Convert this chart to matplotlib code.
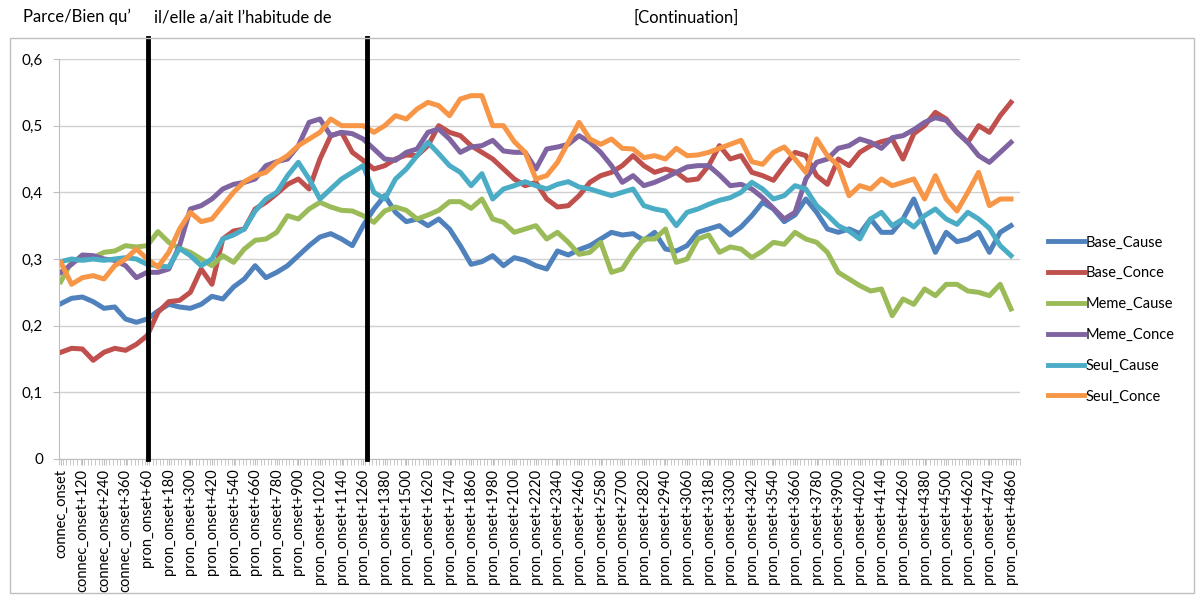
import numpy as np
import matplotlib
matplotlib.use('Agg')
import matplotlib.pyplot as plt
from matplotlib.patches import Rectangle

plt.rcParams['font.family'] = ['Lato', 'DejaVu Sans']

# tick labels, one every 120 ms (data sampled every 60 ms)
tick_labels = ['connec_onset', 'connec_onset+120', 'connec_onset+240', 'connec_onset+360',
               'pron_onset+60', 'pron_onset+180', 'pron_onset+300', 'pron_onset+420',
               'pron_onset+540', 'pron_onset+660', 'pron_onset+780', 'pron_onset+900',
               'pron_onset+1020', 'pron_onset+1140', 'pron_onset+1260', 'pron_onset+1380',
               'pron_onset+1500', 'pron_onset+1620', 'pron_onset+1740', 'pron_onset+1860',
               'pron_onset+1980', 'pron_onset+2100', 'pron_onset+2220', 'pron_onset+2340',
               'pron_onset+2460', 'pron_onset+2580', 'pron_onset+2700', 'pron_onset+2820',
               'pron_onset+2940', 'pron_onset+3060', 'pron_onset+3180', 'pron_onset+3300',
               'pron_onset+3420', 'pron_onset+3540', 'pron_onset+3660', 'pron_onset+3780',
               'pron_onset+3900', 'pron_onset+4020', 'pron_onset+4140', 'pron_onset+4260',
               'pron_onset+4380', 'pron_onset+4500', 'pron_onset+4620', 'pron_onset+4740',
               'pron_onset+4860']

base_cause = [0.233, 0.241, 0.243, 0.236, 0.226, 0.228, 0.21, 0.205, 0.21, 0.222,
              0.232, 0.228, 0.226, 0.232, 0.244, 0.24, 0.258, 0.27, 0.29, 0.272,
              0.28, 0.29, 0.305, 0.32, 0.333, 0.338, 0.33, 0.32, 0.35, 0.375,
              0.395, 0.37, 0.356, 0.36, 0.35, 0.36, 0.345, 0.32, 0.292, 0.296,
              0.305, 0.29, 0.302, 0.298, 0.29, 0.285, 0.312, 0.306, 0.314, 0.32,
              0.33, 0.34, 0.336, 0.338, 0.328, 0.34, 0.315, 0.312, 0.32,
              0.34, 0.345, 0.35, 0.336, 0.348, 0.365, 0.385, 0.375, 0.356, 0.366,
              0.39, 0.37, 0.345, 0.34, 0.345, 0.338, 0.36, 0.34, 0.34, 0.36,
              0.39, 0.35, 0.31, 0.34, 0.326, 0.33, 0.34, 0.31, 0.34, 0.35]

base_conce = [0.16, 0.166, 0.165, 0.148, 0.16, 0.166, 0.163, 0.172, 0.185, 0.22,
              0.236, 0.238, 0.25, 0.285, 0.262, 0.33, 0.342, 0.345, 0.375, 0.385,
              0.398, 0.412, 0.42, 0.405, 0.45, 0.485, 0.49, 0.46, 0.448, 0.435,
              0.44, 0.45, 0.456, 0.455, 0.47, 0.5, 0.49, 0.485, 0.47, 0.46,
              0.45, 0.435, 0.42, 0.41, 0.415, 0.39, 0.378, 0.38, 0.395, 0.415,
              0.425, 0.43, 0.44, 0.455, 0.44, 0.43, 0.435, 0.43, 0.418,
              0.42, 0.44, 0.47, 0.45, 0.455, 0.43, 0.425, 0.418, 0.44, 0.46,
              0.455, 0.425, 0.412, 0.45, 0.44, 0.46, 0.47, 0.476, 0.48, 0.45,
              0.488, 0.5, 0.52, 0.51, 0.49, 0.475, 0.5, 0.49, 0.515, 0.535]

meme_cause = [0.266, 0.296, 0.30, 0.302, 0.31, 0.312, 0.32, 0.318, 0.32, 0.341,
              0.325, 0.316, 0.31, 0.30, 0.29, 0.305, 0.295, 0.315, 0.328, 0.33,
              0.34, 0.365, 0.36, 0.375, 0.385, 0.378, 0.373, 0.372, 0.365, 0.355,
              0.372, 0.378, 0.373, 0.36, 0.366, 0.373, 0.386, 0.386, 0.376, 0.39,
              0.36, 0.355, 0.34, 0.345, 0.35, 0.33, 0.34, 0.325, 0.307, 0.31,
              0.325, 0.28, 0.285, 0.31, 0.33, 0.33, 0.345, 0.295, 0.3,
              0.33, 0.336, 0.31, 0.318, 0.315, 0.302, 0.312, 0.325, 0.322, 0.34,
              0.33, 0.325, 0.31, 0.28, 0.27, 0.26, 0.252, 0.255, 0.215, 0.24,
              0.232, 0.255, 0.245, 0.262, 0.262, 0.252, 0.25, 0.245, 0.262, 0.225]

meme_conce = [0.28, 0.292, 0.306, 0.305, 0.30, 0.298, 0.29, 0.272, 0.28, 0.28,
              0.285, 0.32, 0.375, 0.38, 0.39, 0.405, 0.412, 0.415, 0.42, 0.44,
              0.446, 0.45, 0.47, 0.505, 0.51, 0.485, 0.49, 0.488, 0.48, 0.465,
              0.45, 0.448, 0.46, 0.465, 0.49, 0.495, 0.48, 0.46, 0.468, 0.47,
              0.478, 0.462, 0.46, 0.46, 0.435, 0.465, 0.468, 0.472, 0.485, 0.475,
              0.46, 0.44, 0.415, 0.425, 0.41, 0.415, 0.422, 0.43, 0.438,
              0.44, 0.44, 0.426, 0.41, 0.412, 0.405, 0.392, 0.376, 0.36, 0.37,
              0.42, 0.445, 0.45, 0.466, 0.47, 0.48, 0.475, 0.466, 0.482, 0.485,
              0.494, 0.505, 0.512, 0.508, 0.49, 0.475, 0.455, 0.445, 0.46, 0.475]

seul_cause = [0.296, 0.3, 0.298, 0.3, 0.298, 0.3, 0.302, 0.3, 0.292, 0.29,
              0.288, 0.316, 0.305, 0.29, 0.3, 0.33, 0.336, 0.345, 0.372, 0.39,
              0.4, 0.425, 0.445, 0.42, 0.39, 0.405, 0.42, 0.43, 0.44, 0.4,
              0.39, 0.42, 0.435, 0.455, 0.475, 0.458, 0.44, 0.43, 0.41, 0.428,
              0.39, 0.405, 0.41, 0.416, 0.41, 0.405, 0.412, 0.416, 0.408, 0.405,
              0.4, 0.395, 0.4, 0.405, 0.38, 0.375, 0.372, 0.35, 0.37,
              0.375, 0.382, 0.388, 0.392, 0.4, 0.415, 0.405, 0.39, 0.395, 0.41,
              0.405, 0.38, 0.366, 0.35, 0.342, 0.33, 0.36, 0.37, 0.35, 0.36,
              0.348, 0.365, 0.375, 0.36, 0.352, 0.37, 0.36, 0.346, 0.32, 0.305]

seul_conce = [0.295, 0.262, 0.272, 0.275, 0.27, 0.29, 0.3, 0.315, 0.3, 0.288,
              0.31, 0.345, 0.37, 0.356, 0.36, 0.38, 0.4, 0.416, 0.425, 0.43,
              0.445, 0.455, 0.47, 0.48, 0.49, 0.51, 0.5, 0.5, 0.5, 0.49,
              0.5, 0.515, 0.51, 0.525, 0.535, 0.53, 0.515, 0.54, 0.545, 0.545,
              0.5, 0.5, 0.476, 0.46, 0.42, 0.425, 0.445, 0.475, 0.505, 0.48,
              0.472, 0.48, 0.466, 0.465, 0.452, 0.455, 0.45, 0.466, 0.455,
              0.456, 0.46, 0.466, 0.472, 0.478, 0.446, 0.442, 0.46, 0.468, 0.45,
              0.43, 0.48, 0.455, 0.44, 0.395, 0.41, 0.405, 0.42, 0.41, 0.415,
              0.42, 0.39, 0.425, 0.39, 0.372, 0.4, 0.43, 0.38, 0.39, 0.39]

series_names = ['Base_Cause', 'Base_Conce', 'Meme_Cause', 'Meme_Conce', 'Seul_Cause', 'Seul_Conce']
series = [base_cause, base_conce, meme_cause, meme_conce, seul_cause, seul_conce]
colors = ['#4F81BD', '#C0504D', '#9BBB59', '#8064A2', '#4BACC6', '#F79646']

# segment boundaries (pron onset, end of sentence part)
section_marks = [8.1, 28.4]

fig = plt.figure(figsize=(11.99, 5.96), dpi=100)
ax = fig.add_axes([0.0492, 0.2299, 0.8015, 0.6711])

x = np.arange(len(base_cause))
for vals, name, c in zip(series, series_names, colors):
    ax.plot(x, vals, color=c, lw=3.6, label=name, solid_joinstyle='round')

ax.set_ylim(0, 0.6)
ax.set_xlim(-1/6, len(x) - 1 + 5/6)
ax.set_yticks(np.arange(0, 0.61, 0.1))
ax.set_yticklabels(['0', '0,1', '0,2', '0,3', '0,4', '0,5', '0,6'], fontsize=11)
ax.yaxis.grid(True, color='#D0D0D0', lw=1)
ax.set_axisbelow(True)

ax.set_xticks(x[::2])
ax.set_xticklabels(tick_labels, rotation=90, fontsize=10.5)
ax.set_xticks(np.arange(-1/6, len(x), 1/3), minor=True)
ax.tick_params(axis='x', which='both', length=4, color='#BFBFBF', pad=3)
ax.tick_params(axis='y', length=4.5, color='#BFBFBF', pad=7)

for s in ['top', 'right']:
    ax.spines[s].set_visible(False)
ax.spines['left'].set_color('#BFBFBF')
ax.spines['bottom'].set_color('#BFBFBF')

for m in section_marks:
    ax.plot([m, m], [0, 1.0525], color='black', lw=3.5, transform=ax.get_xaxis_transform(),
            clip_on=False, zorder=5)

leg = ax.legend(loc='center left', bbox_to_anchor=(1048 / 1199, 0.464), bbox_transform=fig.transFigure,
                frameon=False, fontsize=10.5, handlelength=2.5, handletextpad=0.1, labelspacing=1.15,
                borderpad=0, borderaxespad=0)
for line in leg.get_lines():
    line.set_linewidth(3.5)

fig.patches.append(Rectangle((10 / 1199, 3 / 596), 1184 / 1199, 555 / 596, transform=fig.transFigure,
                             fill=False, edgecolor='#BFBFBF', lw=1))

fig.text(23 / 1199, 0.971, 'Parce/Bien qu’', fontsize=12, va='center')
fig.text(154 / 1199, 0.971, 'il/elle a/ait l’habitude de', fontsize=12, va='center')
fig.text(686 / 1199, 0.971, '[Continuation]', fontsize=12, va='center', ha='center')

fig.savefig('out.png', dpi=100)
